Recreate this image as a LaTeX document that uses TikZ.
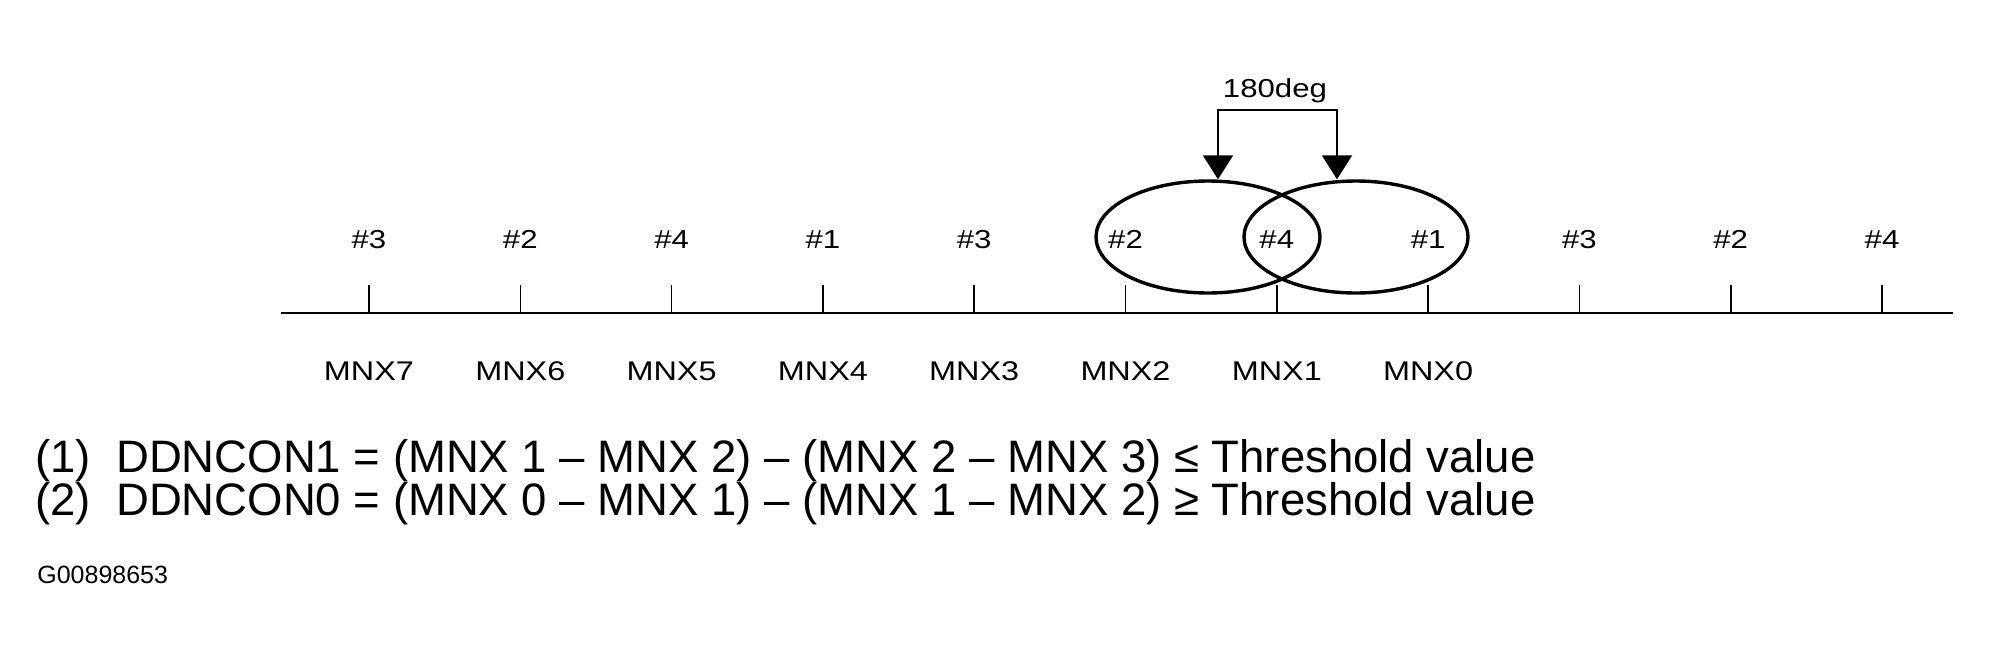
\documentclass[tikz,border=0pt]{standalone}
\usepackage{fontspec}
\setmainfont{Liberation Sans}
\newfontfamily\lblfont{Liberation Sans}[FakeStretch=1.2]
\usetikzlibrary{arrows.meta,shapes}

\begin{document}
\begin{tikzpicture}[x=0.5pt,y=-0.5pt,inner sep=0pt]
  \useasboundingbox(0,0)rectangle(1992,659);
  \tikzstyle{cyl}=[anchor=base,font=\lblfont\fontsize{13}{15}\selectfont]
  \tikzstyle{mnx}=[anchor=base,font=\lblfont\fontsize{13.5}{16}\selectfont]
  \tikzstyle{lap}=[ellipse,draw,line width=1.7pt,minimum width=112pt,minimum height=56pt]
  \tikzstyle{eq}=[anchor=base west,font=\fontsize{22.75}{26}\selectfont]
  \coordinate(a0)at(281,313);\coordinate(a1)at(1953,313);
  \draw[line width=1pt](a0)--(a1);
  \foreach\i/\c in{0/3,1/2,2/4,3/1,4/3,5/2,6/4,7/1,8/3,9/2,10/4}{
    \coordinate(t\i)at(369+151.3*\i,313);
    \draw[line width=0.8pt](t\i)--++(0,-28);
    \node[cyl](c\i)at(369+151.3*\i,248){\#\c};}
  \foreach\i in{0,...,7}{\pgfmathtruncatemacro\k{7-\i}\node[mnx](m\i)at(369+151.3*\i,380){MNX\k};}
  \node[lap](l1)at(1208,237){};
  \node[lap](l2)at(1356,237){};
  \coordinate(b1)at(1218,110);\coordinate(b2)at(1337,110);
  \tikzstyle{e}=[{Triangle[width=15pt,length=12pt]}-{Triangle[width=15pt,length=12pt]},line width=1pt]
  \draw[e](b1|-l1.north)--(b1)--(b2)--(b2|-l2.north);
  \node[cyl](deg)at(1275,97){180deg};
  \node[eq](f1)at(35,472){(1)~~DDNCON1 = (MNX 1 – MNX 2) – (MNX 2 – MNX 3) ≤ Threshold value};
  \node[eq](f2)at(35,515){(2)~~DDNCON0 = (MNX 0 – MNX 1) – (MNX 1 – MNX 2) ≥ Threshold value};
  \node[anchor=base west,font=\fontsize{12.5}{14}\selectfont](fig)at(37,583){G00898653};
\end{tikzpicture}
\end{document}
